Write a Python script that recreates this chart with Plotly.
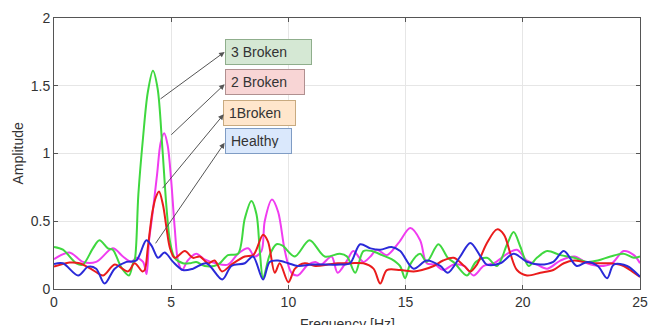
import plotly.graph_objects as go

# ---- data ----
f_green = [0.0, 0.38, 0.95, 1.23, 1.66, 1.94, 2.3, 2.51, 2.87, 3.2, 3.37, 3.45, 3.6, 3.8, 4.0, 4.22, 4.42, 4.62, 4.8, 4.95,
           5.15, 5.5, 5.8, 6.07, 6.43, 7.0, 7.42, 7.85, 8.14, 8.42, 8.64, 8.78, 8.92, 9.2, 9.49, 9.75, 10.27, 10.9, 11.55,
           12.2, 12.5, 12.85, 13.2, 13.55, 14.0, 14.4, 14.76, 14.98, 15.19, 15.62, 15.9, 16.4, 16.8, 17.1, 17.62, 18.0,
           18.47, 18.9, 19.33, 19.61, 19.9, 20.25, 20.6, 21.04, 21.6, 22.2, 22.75, 23.2, 23.74, 24.3, 24.74, 25.0]
a_green = [0.31, 0.29, 0.19, 0.18, 0.30, 0.36, 0.30, 0.29, 0.16, 0.10, 0.19, 0.22, 0.70, 1.12, 1.45, 1.61, 1.48, 1.05, 0.60, 0.35,
           0.23, 0.19, 0.19, 0.20, 0.17, 0.18, 0.25, 0.26, 0.52, 0.65, 0.55, 0.28, 0.08, 0.25, 0.33, 0.32, 0.24, 0.36, 0.24,
           0.26, 0.24, 0.12, 0.28, 0.28, 0.25, 0.22, 0.17, 0.08, 0.18, 0.26, 0.20, 0.33, 0.23, 0.19, 0.10, 0.20,
           0.23, 0.17, 0.33, 0.42, 0.31, 0.17, 0.23, 0.28, 0.25, 0.23, 0.20, 0.21, 0.24, 0.26, 0.23, 0.24]

f_mag = [0.0, 0.66, 1.23, 1.8, 2.51, 2.94, 3.3, 3.51, 3.8, 3.95, 4.05, 4.2, 4.4, 4.55, 4.7, 4.85, 5.0, 5.15, 5.3, 5.47,
         5.7, 6.07, 6.4, 6.9, 7.42, 7.85, 8.28, 8.56, 8.85, 8.99, 9.3, 9.56, 9.85, 10.13, 10.4, 10.84, 11.15, 11.4, 11.84,
         12.1, 12.5, 12.77, 13.2, 13.5, 13.77, 14.2, 14.7, 15.2, 15.62, 15.9, 16.26, 16.6, 17.05, 17.5, 17.9, 18.33,
         18.76, 19.33, 19.75, 20.18, 20.6, 21.04, 21.6, 22.2, 22.75, 23.3, 23.8, 24.3, 24.74, 25.0]
a_mag = [0.22, 0.27, 0.20, 0.20, 0.30, 0.24, 0.20, 0.23, 0.20, 0.11, 0.35, 0.55, 0.85, 1.08, 1.15, 1.06, 0.80, 0.45, 0.20, 0.14,
         0.21, 0.26, 0.22, 0.19, 0.18, 0.26, 0.30, 0.24, 0.28, 0.50, 0.66, 0.57, 0.28, 0.12, 0.10, 0.18, 0.20, 0.18, 0.24,
         0.12, 0.21, 0.28, 0.20, 0.24, 0.29, 0.25, 0.34, 0.45, 0.36, 0.19, 0.18, 0.14, 0.18, 0.17, 0.10, 0.17,
         0.19, 0.26, 0.29, 0.21, 0.18, 0.15, 0.21, 0.24, 0.19, 0.17, 0.19, 0.28, 0.25, 0.19]

f_red = [0.0, 0.66, 1.09, 1.66, 2.1, 2.59, 3.16, 3.44, 3.77, 3.87, 4.0, 4.2, 4.35, 4.48, 4.65, 4.8, 4.95, 5.15, 5.58, 5.93,
         6.22, 6.57, 6.85, 7.17, 7.57, 8.14, 8.5, 8.92, 9.13, 9.42, 9.63, 10.0, 10.28, 10.7, 11.14, 11.7, 12.1, 12.63, 13.2,
         13.63, 13.92, 14.2, 14.77, 15.34, 15.7, 16.2, 16.6, 17.05, 17.5, 17.76, 18.04, 18.47, 18.9, 19.2, 19.47, 19.75,
         20.18, 20.75, 21.3, 21.75, 22.2, 22.6, 23.2, 23.74, 24.3, 24.74, 25.0]
a_red = [0.165, 0.195, 0.19, 0.14, 0.10, 0.18, 0.13, 0.19, 0.13, 0.14, 0.30, 0.57, 0.68, 0.72, 0.62, 0.45, 0.30, 0.23, 0.28, 0.23,
         0.24, 0.19, 0.21, 0.13, 0.18, 0.24, 0.25, 0.40, 0.35, 0.12, 0.19, 0.05, 0.15, 0.19, 0.17, 0.18, 0.19, 0.19, 0.19,
         0.15, 0.04, 0.14, 0.14, 0.13, 0.14, 0.17, 0.21, 0.23, 0.17, 0.13, 0.18, 0.34, 0.44, 0.40, 0.26, 0.14,
         0.10, 0.12, 0.14, 0.19, 0.21, 0.20, 0.19, 0.19, 0.17, 0.12, 0.09]

f_blue = [0.0, 0.38, 1.03, 1.46, 1.8, 2.16, 2.59, 3.09, 3.51, 3.94, 4.16, 4.44, 4.72, 5.08, 5.5, 5.93, 6.5, 7.18, 7.57, 8.14,
          8.49, 8.92, 9.2, 9.56, 10.0, 10.4, 11.0, 11.7, 12.2, 12.63, 13.06, 13.5, 13.92, 14.4, 14.77, 15.34, 15.9, 16.48,
          16.8, 17.33, 17.76, 18.2, 18.47, 19.04, 19.61, 20.18, 20.75, 21.3, 21.75, 22.3, 22.75, 23.2, 23.6, 23.88, 24.45, 25.0]
a_blue = [0.185, 0.19, 0.10, 0.165, 0.15, 0.04, 0.15, 0.20, 0.21, 0.36, 0.32, 0.23, 0.27, 0.20, 0.14, 0.15, 0.19, 0.07, 0.17, 0.19,
          0.24, 0.07, 0.20, 0.21, 0.19, 0.17, 0.18, 0.18, 0.18, 0.19, 0.33, 0.30, 0.29, 0.31, 0.28, 0.15, 0.21, 0.17,
          0.12, 0.24, 0.34, 0.24, 0.18, 0.19, 0.26, 0.20, 0.18, 0.20, 0.28, 0.17, 0.20, 0.17, 0.08, 0.18, 0.17, 0.09]

labels = ["Healthy", "1Broken", "2 Broken", "3 Broken"]
x_ticks = [0, 5, 10, 15, 20, 25]
y_ticks = [0, 0.5, 1, 1.5, 2]
y_tick_text = ["0", "0.5", "1", "1.5", "2"]

FONT = "Liberation Sans, Arial, sans-serif"

fig = go.Figure()
series = [
    (f_mag, a_mag, "#f03cf0", labels[2]),
    (f_green, a_green, "#3fd83f", labels[3]),
    (f_red, a_red, "#ea1c1c", labels[1]),
    (f_blue, a_blue, "#2a2ad8", labels[0]),
]
for fx, ay, col, name in series:
    fig.add_trace(go.Scatter(x=fx, y=ay, mode="lines", name=name,
                             line=dict(color=col, width=2, shape="spline", smoothing=0.9)))

# label boxes (fill, border, center x, center y, width)
boxes = [
    (labels[3], "#d5e8d4", "#8fae8c", 9.14, 1.748, 75),
    (labels[2], "#f8d5d5", "#b09090", 8.996, 1.531, 68),
    (labels[1], "#ffe6cc", "#c8aa80", 8.77, 1.301, 61),
    (labels[0], "#dae8fc", "#7f9cc4", 8.72, 1.089, 55),
]
ann = []
for txt, fill, border, cx, cy, w in boxes:
    ann.append(dict(x=cx, y=cy, xref="x", yref="y", text=txt, showarrow=False,
                    bgcolor=fill, bordercolor=border, borderwidth=1, borderpad=5,
                    width=w, height=14, align="left", valign="middle",
                    font=dict(family=FONT, size=14, color="#333333")))

# arrows (head x, head y, tail x, tail y)
arrows = [
    (7.28, 1.75, 4.48, 1.395),
    (7.28, 1.511, 4.94, 1.128),
    (7.24, 1.289, 4.58, 0.733),
    (7.28, 1.079, 4.29, 0.326),
]
for hx, hy, tx, ty in arrows:
    ann.append(dict(x=hx, y=hy, xref="x", yref="y", ax=tx, ay=ty, axref="x", ayref="y",
                    text="", showarrow=True, arrowhead=2, arrowsize=1.1, arrowwidth=1,
                    arrowcolor="#555555", standoff=0, startstandoff=0))

ann.append(dict(x=0.5, y=0, xref="paper", yref="paper", xanchor="center", yanchor="top",
                yshift=-25, text="Frequency [Hz]", showarrow=False,
                font=dict(family=FONT, size=14, color="#333333")))
ann.append(dict(x=0, y=0.5, xref="paper", yref="paper", xanchor="center", yanchor="middle",
                xshift=-37, text="Amplitude", textangle=-90, showarrow=False,
                font=dict(family=FONT, size=14, color="#333333")))

fig.update_layout(
    width=648, height=325,
    margin=dict(l=54, r=8, t=18, b=36, autoexpand=False),
    paper_bgcolor="white", plot_bgcolor="white",
    showlegend=False,
    annotations=ann,
    font=dict(family=FONT, size=13, color="#333333"),
)
fig.update_xaxes(range=[0, 25], tickvals=x_ticks, ticks="inside", ticklen=4,
                 tickcolor="#555555", showline=True, linecolor="#555555", linewidth=1,
                 mirror="ticks", showgrid=True, gridcolor="#e6e6e6", zeroline=False,
                 ticklabeloverflow="allow",
                 tickfont=dict(family=FONT, size=14, color="#333333"))
fig.update_yaxes(range=[0, 2], tickvals=y_ticks, ticktext=y_tick_text, ticks="inside", ticklen=4,
                 tickcolor="#555555", showline=True, linecolor="#555555", linewidth=1,
                 mirror="ticks", showgrid=True, gridcolor="#e6e6e6", zeroline=False,
                 ticklabeloverflow="allow",
                 tickfont=dict(family=FONT, size=14, color="#333333"))

fig.write_html("out.html", config={"displayModeBar": False},
               post_script="document.body.style.margin='0px';document.body.style.overflow='hidden';")
